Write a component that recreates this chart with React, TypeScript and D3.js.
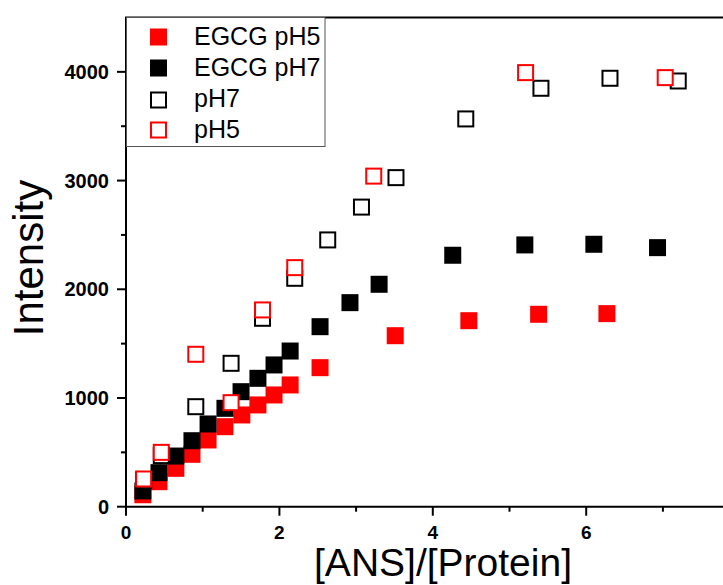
import React from "react";
import * as d3 from "d3";

const egcgPh5X = [0.22, 0.43, 0.65, 0.86, 1.07, 1.29, 1.51, 1.72, 1.93, 2.14, 2.53, 3.51, 4.47, 5.38, 6.27];
const egcgPh5Y = [110, 230, 353, 482, 614, 736, 844, 936, 1028, 1120, 1279, 1573, 1711, 1770, 1776];

const egcgPh7X = [0.22, 0.43, 0.65, 0.86, 1.07, 1.29, 1.5, 1.72, 1.93, 2.14, 2.53, 2.92, 3.3, 4.26, 5.2, 6.1, 6.93];
const egcgPh7Y = [145, 313, 466, 607, 761, 905, 1058, 1181, 1304, 1432, 1656, 1877, 2046, 2313, 2408, 2414, 2383];

const ph7X = [0.23, 0.46, 0.91, 1.37, 1.78, 2.2, 2.63, 3.07, 3.52, 4.43, 5.41, 6.31, 7.2];
const ph7Y = [240, 470, 920, 1319, 1733, 2101, 2454, 2756, 3027, 3567, 3849, 3941, 3916];

const ph5X = [0.23, 0.46, 0.91, 1.37, 1.78, 2.2, 3.23, 5.21, 7.03];
const ph5Y = [255, 500, 1402, 957, 1810, 2199, 3041, 3993, 3947];

const xTicks = [0, 2, 4, 6];
const xMinor = [1, 3, 5, 7];
const yTicks = [0, 1000, 2000, 3000, 4000];
const yMinor = [500, 1500, 2500, 3500];

const legendLabels = ["EGCG pH5", "EGCG pH7", "pH7", "pH5"];

const W = 723;
const H = 585;
const FONT = "Arial, 'Liberation Sans', sans-serif";

export default function App() {
  const x = d3.scaleLinear().domain([0, 8]).range([126, 739.6]);
  const y = d3.scaleLinear().domain([0, 4500]).range([506.7, 17.5]);
  const S = 17;

  const series = [
    { xs: egcgPh5X, ys: egcgPh5Y, fill: "#ff0000", stroke: "none" },
    { xs: egcgPh7X, ys: egcgPh7Y, fill: "#000000", stroke: "none" },
    { xs: ph7X, ys: ph7Y, fill: "#ffffff", stroke: "#000000" },
    { xs: ph5X, ys: ph5Y, fill: "#ffffff", stroke: "#ff0000" },
  ];

  const legendY = [37, 68, 100, 130];
  const legendText = [45, 76, 107, 138];

  const x0 = x(0);
  const yb = y(0);
  const yt = y(4500);

  return (
    <svg width={W} height={H} style={{ position: "absolute", left: 0, top: 0, background: "#fff" }} fontFamily={FONT}>
      <rect x={0} y={0} width={W} height={H} fill="#ffffff" />
      {series.map((s, si) =>
        s.xs.map((xv, i) => {
          const open = s.stroke !== "none";
          const sz = open ? S - 2 : S;
          return (
            <rect
              key={`${si}-${i}`}
              x={x(xv) - sz / 2}
              y={y(s.ys[i]) - sz / 2}
              width={sz}
              height={sz}
              fill={s.fill}
              stroke={open ? s.stroke : "none"}
              strokeWidth={2}
            />
          );
        })
      )}
      <line x1={x0} x2={x0} y1={yt} y2={yb + 1} stroke="#000" strokeWidth={2} />
      <line x1={x0 - 1} x2={W + 20} y1={yb} y2={yb} stroke="#000" strokeWidth={2} />
      <line x1={x0 - 1} x2={W + 20} y1={yt} y2={yt} stroke="#000" strokeWidth={2} />
      {yTicks.map((t) => (
        <g key={`yt${t}`}>
          <line x1={x0 - 9} x2={x0} y1={y(t)} y2={y(t)} stroke="#000" strokeWidth={2} />
          <text x={109} y={y(t)} dy="0.36em" textAnchor="end" fontSize={20} fontWeight="bold">
            {t}
          </text>
        </g>
      ))}
      {yMinor.map((t) => (
        <line key={`ym${t}`} x1={x0 - 5} x2={x0} y1={y(t)} y2={y(t)} stroke="#000" strokeWidth={2} />
      ))}
      {xTicks.map((t) => (
        <g key={`xt${t}`}>
          <line x1={x(t)} x2={x(t)} y1={yb} y2={yb + 9} stroke="#000" strokeWidth={2} />
          <text x={x(t)} y={539} textAnchor="middle" fontSize={19} fontWeight="bold">
            {t}
          </text>
        </g>
      ))}
      {xMinor.map((t) => (
        <line key={`xm${t}`} x1={x(t)} x2={x(t)} y1={yb} y2={yb + 5} stroke="#000" strokeWidth={2} />
      ))}
      <text x={443} y={576} textAnchor="middle" fontSize={39}>
        [ANS]/[Protein]
      </text>
      <text transform="translate(43,258) rotate(-90)" textAnchor="middle" fontSize={42}>
        Intensity
      </text>
      <rect x={126.5} y={17.5} width={198.5} height={129} fill="#ffffff" stroke="#555" strokeWidth={1} />
      {series.map((s, i) => {
        const open = s.stroke !== "none";
        const sz = open ? S - 2 : S;
        return (
          <g key={`lg${i}`}>
            <rect
              x={158.5 - sz / 2}
              y={legendY[i] - sz / 2}
              width={sz}
              height={sz}
              fill={s.fill}
              stroke={open ? s.stroke : "none"}
              strokeWidth={2}
            />
            <text x={194} y={legendText[i]} fontSize={25}>
              {legendLabels[i]}
            </text>
          </g>
        );
      })}
    </svg>
  );
}
